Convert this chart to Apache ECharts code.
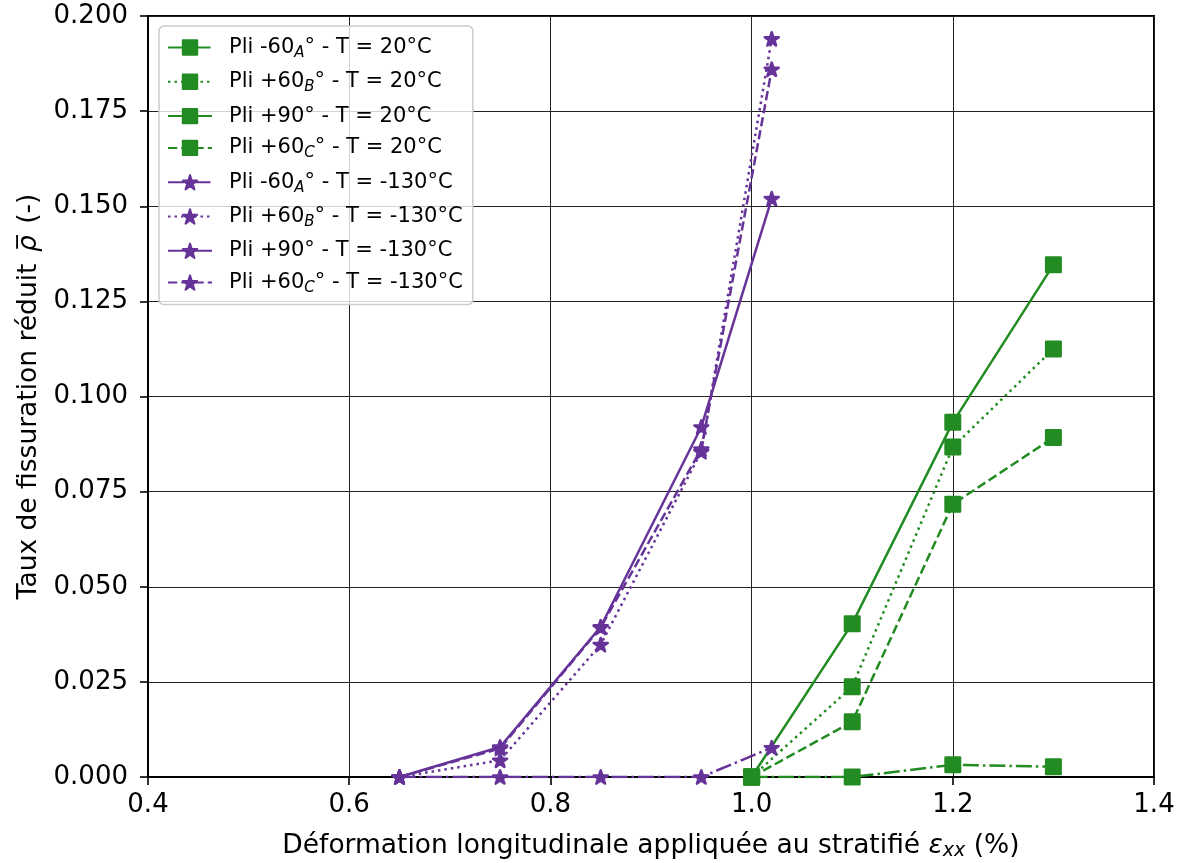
<!DOCTYPE html>
<html>
<head>
<meta charset="utf-8">
<script src="https://cdn.jsdelivr.net/npm/echarts@6/dist/echarts.min.js"></script>
<style>
html,body{margin:0;padding:0;background:#fff;}
#chart{width:1184px;height:863px;}
</style>
</head>
<body>
<div id="chart"></div>
<script>
// ---- data ----
const strainGreen = [1.0, 1.1, 1.2, 1.3];
const greenM60A = [0, 0, 0.0032, 0.0027];
const greenP60B = [0, 0.0237, 0.0867, 0.1125];
const greenP90 = [0, 0.0403, 0.0932, 0.1346];
const greenP60C = [0, 0.0145, 0.0717, 0.0892];

const strainPurple = [0.65, 0.75, 0.85, 0.95, 1.02];
const purpleM60A = [0, 0, 0, 0, 0.0077];
const purpleP60B = [0, 0.0044, 0.0348, 0.0855, 0.194];
const purpleP90 = [0, 0.0079, 0.0395, 0.092, 0.152];
const purpleP60C = [0, 0.0075, 0.0393, 0.0862, 0.186];

const seriesNames = [
  'Pli -60A° - T = 20°C', 'Pli +60B° - T = 20°C', 'Pli +90° - T = 20°C', 'Pli +60C° - T = 20°C',
  'Pli -60A° - T = -130°C', 'Pli +60B° - T = -130°C', 'Pli +90° - T = -130°C', 'Pli +60C° - T = -130°C'
];
const legendRich = {
  'Pli -60A° - T = 20°C': '{n|Pli -60}{s|A}{n|° - T = 20°C}',
  'Pli +60B° - T = 20°C': '{n|Pli +60}{s|B}{n|° - T = 20°C}',
  'Pli +90° - T = 20°C': '{n|Pli +90° - T = 20°C}',
  'Pli +60C° - T = 20°C': '{n|Pli +60}{s|C}{n|° - T = 20°C}',
  'Pli -60A° - T = -130°C': '{n|Pli -60}{s|A}{n|° - T = -130°C}',
  'Pli +60B° - T = -130°C': '{n|Pli +60}{s|B}{n|° - T = -130°C}',
  'Pli +90° - T = -130°C': '{n|Pli +90° - T = -130°C}',
  'Pli +60C° - T = -130°C': '{n|Pli +60}{s|C}{n|° - T = -130°C}'
};
const xTicks = [0.4, 0.6, 0.8, 1.0, 1.2, 1.4];
const yTicks = [0, 0.025, 0.05, 0.075, 0.1, 0.125, 0.15, 0.175, 0.2];

const GREEN = '#228B22';
const PURPLE = '#663399';
const FONT = 'DejaVu Sans';
const STAR = 'path://M100,0 L122.45,69.1 L195.11,69.1 L136.33,111.8 L158.78,180.9 L100,138.2 L41.22,180.9 L63.67,111.8 L4.89,69.1 L77.55,69.1 Z';

const dashes = {
  dotted: [2.5, 4],
  dashed: [9.25, 4],
  dashdot: [16, 4, 2.5, 4]
};

function mk(name, xs, ys, color, symbol, size, dash) {
  return {
    name: name,
    type: 'line',
    data: xs.map((x, i) => [x, ys[i]]),
    symbol: symbol,
    symbolSize: size,
    showAllSymbol: true,
    color: color,
    itemStyle: { color: color, opacity: 1, borderColor: color, borderWidth: 2.5, borderJoin: 'round' },
    lineStyle: { color: color, width: 2.5, type: dash },
    emphasis: { disabled: true },
    animation: false,
    clip: true
  };
}

const SQ = 14.5;
const ST = [14, 13.3];
const series = [
  mk(seriesNames[0], strainGreen, greenM60A, GREEN, 'rect', SQ, dashes.dashdot),
  mk(seriesNames[1], strainGreen, greenP60B, GREEN, 'rect', SQ, dashes.dotted),
  mk(seriesNames[2], strainGreen, greenP90, GREEN, 'rect', SQ, 'solid'),
  mk(seriesNames[3], strainGreen, greenP60C, GREEN, 'rect', SQ, dashes.dashed),
  mk(seriesNames[4], strainPurple, purpleM60A, PURPLE, STAR, ST, dashes.dashdot),
  mk(seriesNames[5], strainPurple, purpleP60B, PURPLE, STAR, ST, dashes.dotted),
  mk(seriesNames[6], strainPurple, purpleP90, PURPLE, STAR, ST, 'solid'),
  mk(seriesNames[7], strainPurple, purpleP60C, PURPLE, STAR, ST, dashes.dashed)
];

const chart = echarts.init(document.getElementById('chart'), null, { renderer: 'canvas' });
chart.setOption({
  backgroundColor: '#fff',
  animation: false,
  textStyle: { fontFamily: FONT },
  grid: {
    left: 148, right: 30, top: 16, bottom: 86,
    containLabel: false,
    outerBoundsMode: 'none',
    show: true, borderColor: '#000', borderWidth: 2, backgroundColor: 'transparent'
  },
  xAxis: {
    type: 'value',
    min: xTicks[0], max: xTicks[xTicks.length - 1], interval: 0.2,
    axisLine: { show: true, onZero: false, lineStyle: { color: '#000', width: 2 } },
    axisTick: { show: true, inside: false, length: 8, lineStyle: { color: '#000', width: 1.6 } },
    axisLabel: { color: '#000', fontSize: 26, fontFamily: FONT, margin: 15,
      formatter: v => v.toFixed(1) },
    splitLine: { show: true, lineStyle: { color: '#222', width: 1 } },
    name: '{n|Déformation longitudinale appliquée au stratifié }{e|ε}{s|xx}{n| (%)}',
    nameLocation: 'middle',
    nameGap: 54,
    nameTextStyle: {
      color: '#000', fontFamily: FONT, fontSize: 26.5,
      rich: {
        n: { fontSize: 26.5, fontFamily: FONT, color: '#000', lineHeight: 30 },
        e: { fontSize: 26.5, fontFamily: FONT, fontStyle: 'italic', color: '#000', lineHeight: 30 },
        s: { fontSize: 19, fontFamily: FONT, fontStyle: 'italic', color: '#000', lineHeight: 17, verticalAlign: 'bottom' }
      }
    }
  },
  yAxis: {
    type: 'value',
    min: 0, max: yTicks[yTicks.length - 1], interval: 0.025,
    axisLine: { show: true, onZero: false, lineStyle: { color: '#000', width: 2 } },
    axisTick: { show: true, inside: false, length: 8, lineStyle: { color: '#000', width: 1.6 } },
    axisLabel: { color: '#000', fontSize: 26, fontFamily: FONT, margin: 20,
      formatter: v => v.toFixed(3) },
    splitLine: { show: true, lineStyle: { color: '#222', width: 1 } },
    name: '{n|Taux de fissuration réduit }{r|ρ\u0305}{n| (-)}',
    nameLocation: 'middle',
    nameRotate: 90,
    nameGap: 104,
    nameTextStyle: {
      color: '#000', fontFamily: FONT, fontSize: 26.5,
      rich: {
        n: { fontSize: 26.5, fontFamily: FONT, color: '#000' },
        r: { fontSize: 26.5, fontFamily: FONT, fontStyle: 'italic', color: '#000', padding: [0, 3, 0, 3] }
      }
    }
  },
  legend: {
    orient: 'vertical',
    left: 159, top: 26,
    padding: [11, 10, 9, 8],
    itemWidth: 44, itemHeight: 18,
    itemGap: 10.8,
    backgroundColor: 'rgba(255,255,255,0.8)',
    borderColor: '#cccccc', borderWidth: 1.5, borderRadius: 5,
    data: seriesNames,
    selectedMode: false,
    formatter: name => legendRich[name],
    textStyle: {
      fontFamily: FONT, fontSize: 21, color: '#000',
      padding: [0, 0, 0, 12],
      rich: {
        n: { fontSize: 21, fontFamily: FONT, color: '#000', lineHeight: 26 },
        s: { fontSize: 15, fontFamily: FONT, fontStyle: 'italic', color: '#000', lineHeight: 15, verticalAlign: 'bottom' }
      }
    }
  },
  series: series
});
</script>
</body>
</html>
